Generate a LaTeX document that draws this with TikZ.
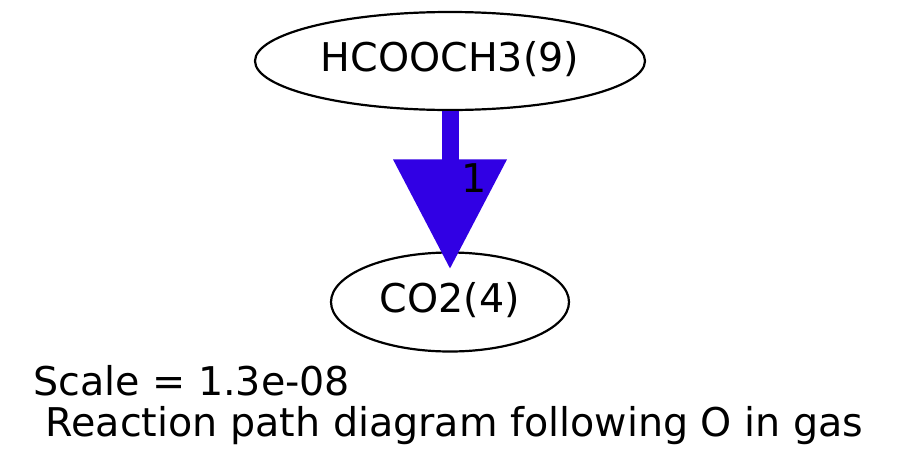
\documentclass[tikz,border=0pt]{standalone}
\usepackage{fontspec}
\setmainfont{DejaVu Sans}
\usetikzlibrary{calc,shapes.geometric}
\definecolor{fluxblue}{HTML}{3100E4}
\begin{document}
\begin{tikzpicture}[x=1pt,y=-1pt,
  txt/.style={font=\fontsize{39.6}{47}\selectfont},
  species/.style={draw=black,line width=2.2pt,ellipse,inner sep=0pt,
    txt,text height=27pt,text depth=7pt},
  lbl/.style={txt,inner sep=0pt,anchor=base},
  flux/.style={fill=fluxblue}]
\useasboundingbox (0,0) rectangle (900,469);
% species
\node[species,minimum width=390pt,minimum height=98pt] (hcooch3) at (450,61) {HCOOCH3(9)};
\node[species,minimum width=238pt,minimum height=99pt] (co2) at (450,302) {CO2(4)};
% reaction path arrow: thick shaft, wide head ending on CO2(4)
\coordinate (tip) at ($(co2.north)+(0,17)$);
\fill[flux] ($(hcooch3.south)+(-8.5,0)$) rectangle ($(hcooch3.south)+(8.5,52)$);
\fill[flux] ($(tip)+(-57,-109)$) -- ($(tip)+(57,-109)$) -- (tip) -- cycle;
\node[lbl] (w) at (474.5,192) {1};
% caption
\node[lbl,anchor=base west] (scale) at (33,395) {Scale = 1.3e-08};
\node[lbl,anchor=base west] (title) at (33,436) {\ Reaction path diagram following O in gas};
\end{tikzpicture}
\end{document}
